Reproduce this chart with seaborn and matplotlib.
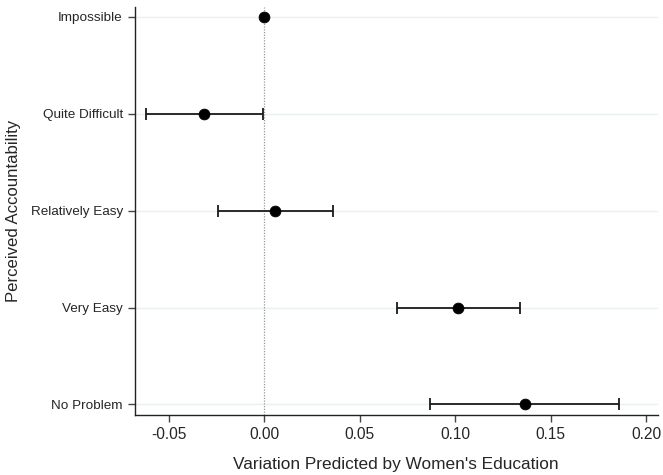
import matplotlib
matplotlib.use("Agg")
import matplotlib.pyplot as plt
import seaborn as sns
import pandas as pd

categories = ["Impossible", "Quite Difficult", "Relatively Easy", "Very Easy", "No Problem"]
estimates = [0.0, -0.0313, 0.0058, 0.1014, 0.1366]
ci_low = [0.0, -0.0618, -0.0242, 0.0695, 0.0869]
ci_high = [0.0, -0.0005, 0.0358, 0.1338, 0.186]
xticks = [-0.05, 0.00, 0.05, 0.10, 0.15, 0.20]
xtick_labels = ["-0.05", "0.00", "0.05", "0.10", "0.15", "0.20"]

sns.set_style("white")
plt.rcParams['font.family'] = ['Liberation Sans', 'DejaVu Sans']

df = pd.DataFrame({"cat": categories, "est": estimates, "lo": ci_low, "hi": ci_high})
df["pos"] = range(len(df))

fig = plt.figure(figsize=(6.63, 4.75), dpi=100)
ax = fig.add_axes([0.203, 0.126, 0.789, 0.859])

for p in df["pos"]:
    ax.axhline(p, color="#e9f0f2", lw=1.0, zorder=0)
ax.axvline(0, color="#999999", lw=0.9, ls=(0, (1, 1.2)), zorder=1)

has_ci = df["hi"] > df["lo"]
ax.errorbar(df.loc[has_ci, "est"], df.loc[has_ci, "pos"],
            xerr=[df.loc[has_ci, "est"] - df.loc[has_ci, "lo"], df.loc[has_ci, "hi"] - df.loc[has_ci, "est"]],
            fmt="none", ecolor="#1a1a1a", elinewidth=1.3, capsize=4, capthick=1.3, zorder=2)
sns.scatterplot(data=df, x="est", y="pos", ax=ax, color="black", s=60, edgecolor="black", zorder=3, legend=False)

ax.set_xlim(-0.0678, 0.206)
ax.set_ylim(4.11, -0.1)
ax.set_yticks(df["pos"])
ax.set_yticklabels(categories, fontsize=9.7)
ax.set_xticks(xticks)
ax.set_xticklabels(xtick_labels, fontsize=11.2)
ax.tick_params(axis="both", which="both", direction="out", length=5, width=1, color="#444444", left=True, bottom=True)
ax.set_xlabel("Variation Predicted by Women's Education", fontsize=12.4, labelpad=11)
ax.set_ylabel("Perceived Accountability", fontsize=12.1, labelpad=7)
for s in ["top", "right"]:
    ax.spines[s].set_visible(False)
for s in ["left", "bottom"]:
    ax.spines[s].set_color("#222222")
    ax.spines[s].set_linewidth(1.0)

fig.savefig("out.png", dpi=100)
